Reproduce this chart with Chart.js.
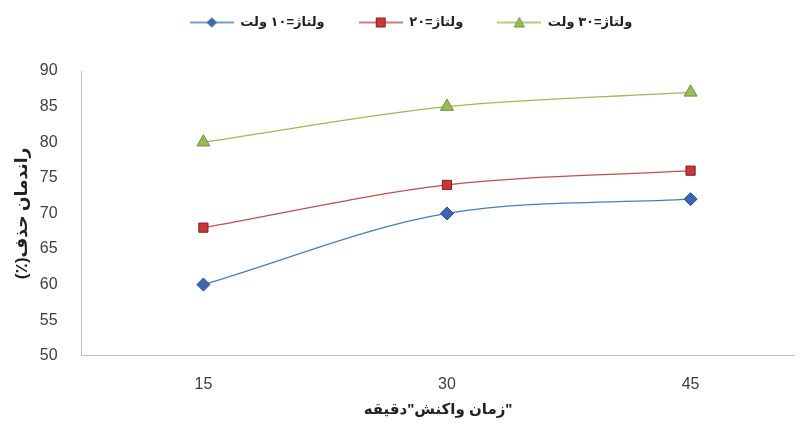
<!DOCTYPE html>
<html><head><meta charset="utf-8">
<script src="https://cdn.jsdelivr.net/npm/chart.js@4/dist/chart.umd.min.js"></script>
<style>html,body{margin:0;padding:0;background:#fff}#wrap{width:803px;height:427px}</style>
</head><body><div id="wrap"><canvas id="c"></canvas></div>
<script>
const times = [15, 30, 45];
const v10 = [60, 70, 72];
const v20 = [68, 74, 76];
const v30 = [80, 85, 87];
const seriesNames = ['ولتاژ=۱۰ ولت', 'ولتاژ=۲۰', 'ولتاژ=۳۰ ولت'];
const yTicks = [50, 55, 60, 65, 70, 75, 80, 85, 90];
const xTitle = '\u202B"زمان واکنش"دقیقه\u202C';
const yTitle = '\u202Bراندمان حذف(٪)\u202C';

const pts = a => a.map((v, i) => ({x: times[i], y: v}));
const font = "'Liberation Sans','DejaVu Sans',sans-serif";

const styles = [
  {line: '#4a7ebb', fill: '#3a67b0', edge: '#274a86', shape: 'rectRot', r: 6.5},
  {line: '#c0504d', fill: '#c8383a', edge: '#85201d', shape: 'rect', r: 6.5},
  {line: '#9bbb59', fill: '#9bbb59', edge: '#71903a', shape: 'triangle', r: 7.5}
];

function legendIcon(s) {
  const c = document.createElement('canvas');
  c.width = 44; c.height = 14;
  const ctx = c.getContext('2d');
  ctx.strokeStyle = s.line; ctx.lineWidth = 1.4;
  ctx.beginPath(); ctx.moveTo(0, 7); ctx.lineTo(44, 7); ctx.stroke();
  ctx.fillStyle = s.fill; ctx.strokeStyle = s.edge; ctx.lineWidth = 1;
  ctx.beginPath();
  if (s.shape === 'rectRot') { ctx.moveTo(22, 2.5); ctx.lineTo(26.5, 7); ctx.lineTo(22, 11.5); ctx.lineTo(17.5, 7); }
  else if (s.shape === 'rect') { ctx.rect(17.5, 2.5, 9, 9); }
  else { ctx.moveTo(22, 2); ctx.lineTo(27, 11.5); ctx.lineTo(17, 11.5); }
  ctx.closePath(); ctx.fill(); ctx.stroke();
  return c;
}
const icons = styles.map(legendIcon);

const data = [v10, v20, v30];
const legendGap = {
  id: 'legendGap',
  beforeInit(chart) {
    const fit = chart.legend.fit;
    chart.legend.fit = function () { fit.bind(chart.legend)(); this.height = 69; };
  },
  afterLayout(chart) {
    const lg = chart.legend;
    lg.top -= 20; lg.bottom -= 20; lg.left += 8; lg.right += 8;
  }
};

new Chart(document.getElementById('c'), {
  type: 'line',
  data: {
    datasets: data.map((d, i) => ({
      label: seriesNames[i], data: pts(d),
      borderColor: styles[i].line, backgroundColor: styles[i].fill,
      pointBorderColor: styles[i].edge, pointBorderWidth: 1,
      pointStyle: styles[i].shape, pointRadius: styles[i].r,
      borderWidth: 1.3, cubicInterpolationMode: 'monotone'
    }))
  },
  options: {
    responsive: true, maintainAspectRatio: false, animation: false,
    layout: {padding: {left: 6, right: 3, top: 2, bottom: 6}},
    plugins: {
      legend: {position: 'top', labels: {
        usePointStyle: true, pointStyleWidth: 44, boxHeight: 14, color: '#222', padding: 34,
        font: {family: font, size: 13, weight: 'bold'},
        generateLabels: chart => chart.data.datasets.map((ds, i) => ({
          text: ds.label, pointStyle: icons[i], fillStyle: ds.backgroundColor,
          strokeStyle: ds.borderColor, lineWidth: 0, datasetIndex: i, hidden: false, fontColor: '#222'
        }))
      }},
      tooltip: {enabled: false}
    },
    scales: {
      x: {type: 'linear', min: 7.5, max: 51.4,
        afterBuildTicks: s => { s.ticks = times.map(v => ({value: v})); },
        grid: {display: false, drawTicks: false}, border: {color: '#bfbfbf'},
        ticks: {color: '#404040', font: {family: font, size: 16}, padding: 19},
        title: {display: true, text: xTitle, color: '#222', font: {family: font, size: 15, weight: 'bold'}, padding: {top: -12, bottom: 2}}
      },
      y: {min: 50, max: 90,
        afterBuildTicks: s => { s.ticks = yTicks.map(v => ({value: v})); },
        grid: {display: false, drawTicks: false}, border: {color: '#bfbfbf'},
        ticks: {color: '#404040', font: {family: font, size: 16}, padding: 24},
        title: {display: true, text: yTitle, color: '#222', font: {family: font, size: 17, weight: 'bold'}, padding: {top: 5.8, bottom: -16.4}}
      }
    }
  },
  plugins: [legendGap]
});
</script></body></html>
